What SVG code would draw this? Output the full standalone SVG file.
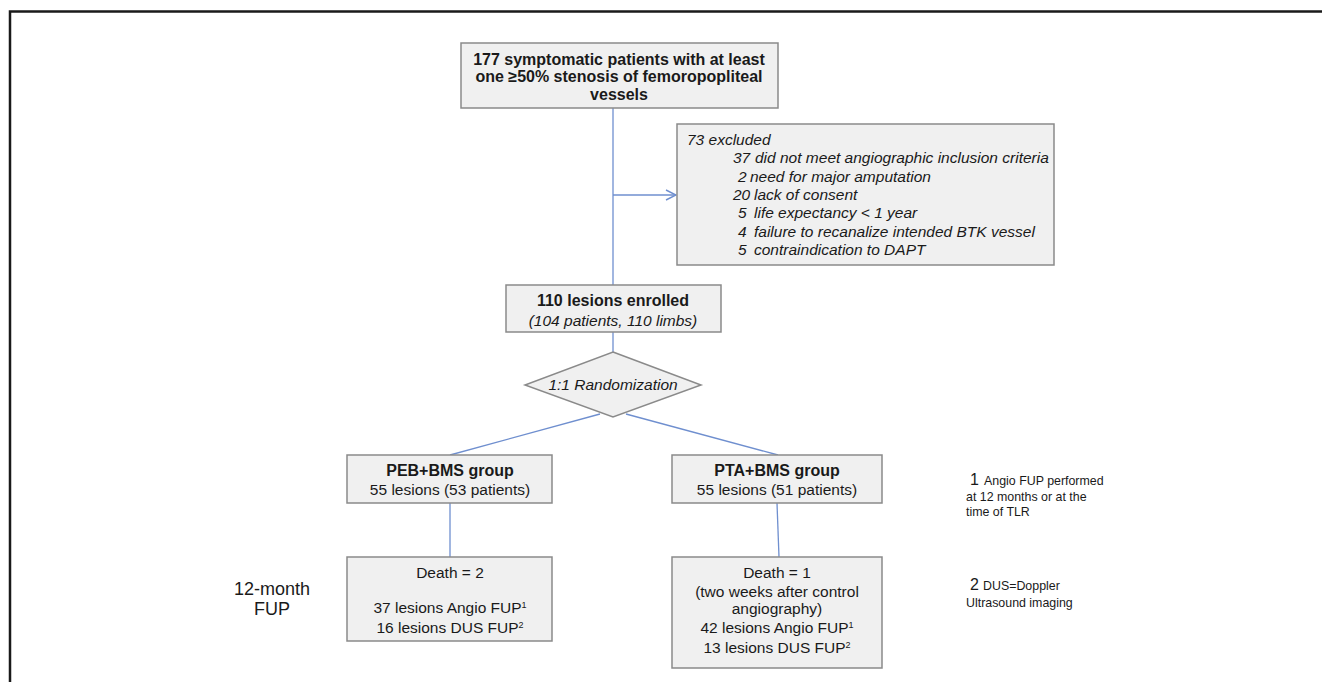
<svg xmlns="http://www.w3.org/2000/svg" width="1322" height="682" viewBox="0 0 1322 682">
<style>
.box{fill:#f0f0f0;stroke:#8a8a8a;stroke-width:1.5}
.ln{stroke:#6f8fcf;stroke-width:1.3;fill:none}
text{font-family:"Liberation Sans",Arial,sans-serif;fill:#1a1a1a}
.b{font-weight:bold;font-size:16px}
.r{font-size:15.5px}
.i{font-style:italic;font-size:15.5px}
.c{text-anchor:middle}
.fn{font-size:12.4px}
.big{font-size:16px}
.sup{font-size:9px}
</style>
<defs>
<marker id="arr" viewBox="0 0 12 12" refX="11" refY="6" markerWidth="12" markerHeight="12" markerUnits="userSpaceOnUse" orient="auto">
<path d="M1,1 L11,6 L1,11" fill="none" stroke="#6f8fcf" stroke-width="1.4"/>
</marker>
</defs>
<rect width="1322" height="682" fill="#fff"/>
<path d="M10,682 V11.5 H1322" fill="none" stroke="#1a1a1a" stroke-width="2.5"/>

<g id="connectors">
<line class="ln" x1="613" y1="108" x2="613" y2="285"/>
<line class="ln" x1="613" y1="195" x2="676" y2="195" marker-end="url(#arr)"/>
<line class="ln" x1="613" y1="332" x2="613" y2="352"/>
<line class="ln" x1="600" y1="414" x2="450" y2="455"/>
<line class="ln" x1="626" y1="414" x2="778" y2="455"/>
<line class="ln" x1="450" y1="503" x2="450" y2="557"/>
<line class="ln" x1="777" y1="503" x2="779" y2="557"/>
</g>

<g id="n-start">
<rect class="box" x="461" y="43" width="317" height="65"/>
<text class="b c" x="619" y="65">177 symptomatic patients with at least</text>
<text class="b c" x="619" y="82">one ≥50% stenosis of femoropopliteal</text>
<text class="b c" x="619" y="100">vessels</text>
</g>

<g id="n-excluded">
<rect class="box" x="677" y="124" width="377" height="141"/>
<text class="i" x="687" y="145">73 excluded</text>
<text class="i" x="733" y="163">37</text><text class="i" x="755" y="163">did not meet angiographic inclusion criteria</text>
<text class="i" x="738" y="182">2</text><text class="i" x="750" y="182">need for major amputation</text>
<text class="i" x="733" y="200">20</text><text class="i" x="754" y="200">lack of consent</text>
<text class="i" x="738" y="218">5</text><text class="i" x="754" y="218">life expectancy &lt; 1 year</text>
<text class="i" x="738" y="237">4</text><text class="i" x="754" y="237">failure to recanalize intended BTK vessel</text>
<text class="i" x="738" y="255">5</text><text class="i" x="754" y="255">contraindication to DAPT</text>
</g>

<g id="n-enrolled">
<rect class="box" x="506" y="285" width="215" height="47"/>
<text class="b c" x="613" y="306">110 lesions enrolled</text>
<text class="i c" x="613" y="326">(104 patients, 110 limbs)</text>
</g>

<g id="n-random">
<polygon class="box" points="613,352 701,385 613,417 525,385"/>
<text class="i c" x="613" y="390">1:1 Randomization</text>
</g>

<g id="n-peb">
<rect class="box" x="347" y="455" width="205" height="48"/>
<text class="b c" x="450" y="476">PEB+BMS group</text>
<text class="r c" x="450" y="495">55 lesions (53 patients)</text>
</g>

<g id="n-pta">
<rect class="box" x="672" y="455" width="210" height="48"/>
<text class="b c" x="777" y="476">PTA+BMS group</text>
<text class="r c" x="777" y="495">55 lesions (51 patients)</text>
</g>

<g id="n-peb-fup">
<rect class="box" x="347" y="557" width="205" height="84"/>
<text class="r c" x="450" y="578">Death = 2</text>
<text class="r c" x="450" y="613">37 lesions Angio FUP<tspan class="sup" dy="-5">1</tspan></text>
<text class="r c" x="450" y="633">16 lesions DUS FUP<tspan class="sup" dy="-5">2</tspan></text>
</g>

<g id="n-pta-fup">
<rect class="box" x="672" y="557" width="210" height="111"/>
<text class="r c" x="777" y="578">Death = 1</text>
<text class="r c" x="777" y="597">(two weeks after control</text>
<text class="r c" x="777" y="614">angiography)</text>
<text class="r c" x="777" y="633">42 lesions Angio FUP<tspan class="sup" dy="-5">1</tspan></text>
<text class="r c" x="777" y="653">13 lesions DUS FUP<tspan class="sup" dy="-5">2</tspan></text>
</g>

<g id="label-fup">
<text class="c" x="272" y="595" font-size="18">12-month</text>
<text class="c" x="272" y="615" font-size="18">FUP</text>
</g>

<g id="footnotes">
<text class="big" x="970" y="485">1</text>
<text class="fn" x="984" y="485">Angio FUP performed</text>
<text class="fn" x="966" y="501">at 12 months or at the</text>
<text class="fn" x="966" y="516">time of TLR</text>
<text class="big" x="970" y="590">2</text>
<text class="fn" x="983" y="590">DUS=Doppler</text>
<text class="fn" x="966" y="607">Ultrasound imaging</text>
</g>
</svg>
